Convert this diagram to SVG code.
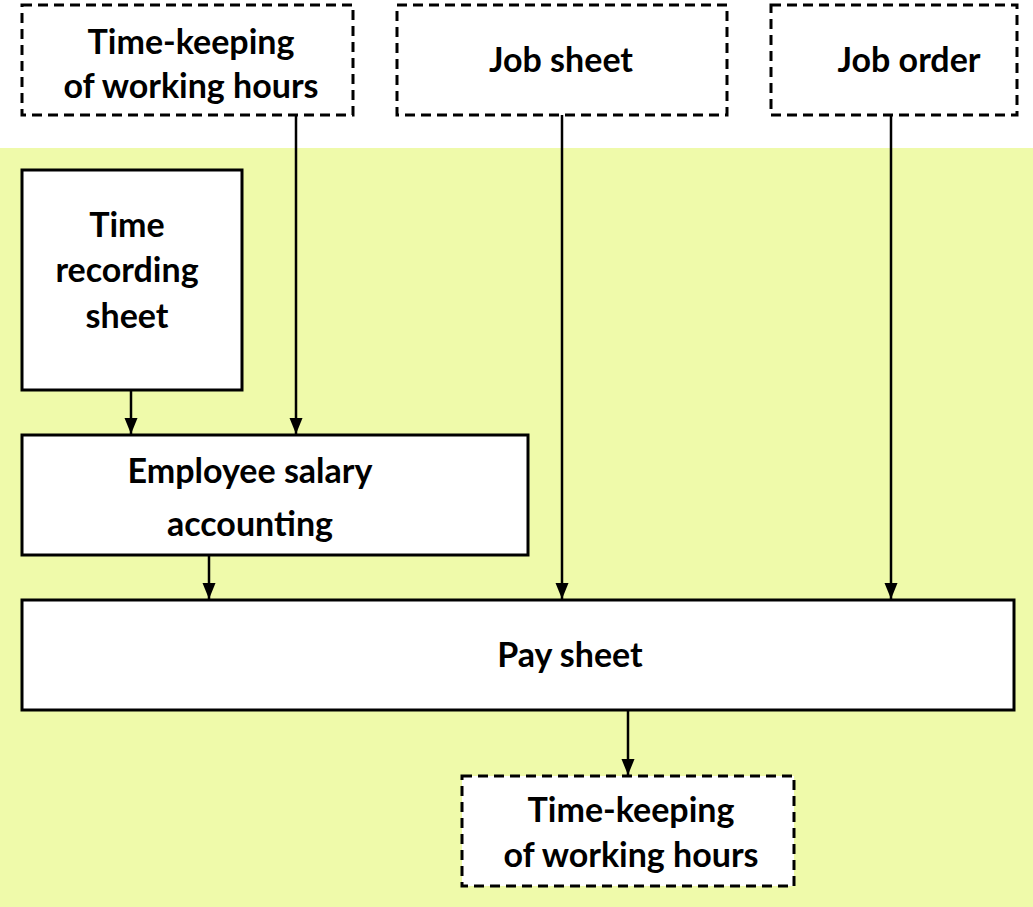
<svg xmlns="http://www.w3.org/2000/svg" width="1033" height="907" viewBox="0 0 1033 907">
<style>
.box{fill:#fff;stroke:#000;stroke-width:3}
.dash{stroke-dasharray:10,6}
.t{font-family:Lato,"Liberation Sans",sans-serif;font-weight:bold;font-size:34px;fill:#000;text-anchor:middle}
.c{stroke:#000;stroke-width:2.5;fill:none;marker-end:url(#ah)}
</style>
<defs>
<marker id="ah" markerWidth="18" markerHeight="16" viewBox="0 0 18 16" refX="16" refY="8" orient="auto" markerUnits="userSpaceOnUse">
<path d="M0,1.5 L16,8 L0,14.5 Z" fill="#000"/>
</marker>
</defs>
<rect x="0" y="0" width="1033" height="907" fill="#fff"/>
<rect x="0" y="148" width="1033" height="759" fill="#effaaa"/>
<g id="n1"><rect class="box dash" x="22" y="5" width="331" height="110"/><text class="t" x="191" y="54">Time-keeping</text><text class="t" x="191" y="98">of working hours</text></g>
<g id="n2"><rect class="box dash" x="397" y="5" width="330" height="110"/><text class="t" x="561" y="72">Job sheet</text></g>
<g id="n3"><rect class="box dash" x="771" y="5" width="246" height="110"/><text class="t" x="909" y="72">Job order</text></g>
<g id="n4"><rect class="box" x="22" y="170" width="220" height="220"/><text class="t" x="127" y="237">Time</text><text class="t" x="127" y="282">recording</text><text class="t" x="127" y="328">sheet</text></g>
<g id="n5"><rect class="box" x="22" y="435" width="506" height="120"/><text class="t" x="250" y="483">Employee salary</text><text class="t" x="250" y="536">accounting</text></g>
<g id="n6"><rect class="box" x="22" y="600" width="992" height="110"/><text class="t" x="570" y="667">Pay sheet</text></g>
<g id="n7"><rect class="box dash" x="462" y="776" width="332" height="110"/><text class="t" x="631" y="822">Time-keeping</text><text class="t" x="631" y="867">of working hours</text></g>
<g id="connectors">
<path class="c" d="M131,390 V434"/>
<path class="c" d="M296,115 V434"/>
<path class="c" d="M209,555 V599"/>
<path class="c" d="M562,115 V599"/>
<path class="c" d="M891,115 V599"/>
<path class="c" d="M628,710 V775"/>
</g>
</svg>
